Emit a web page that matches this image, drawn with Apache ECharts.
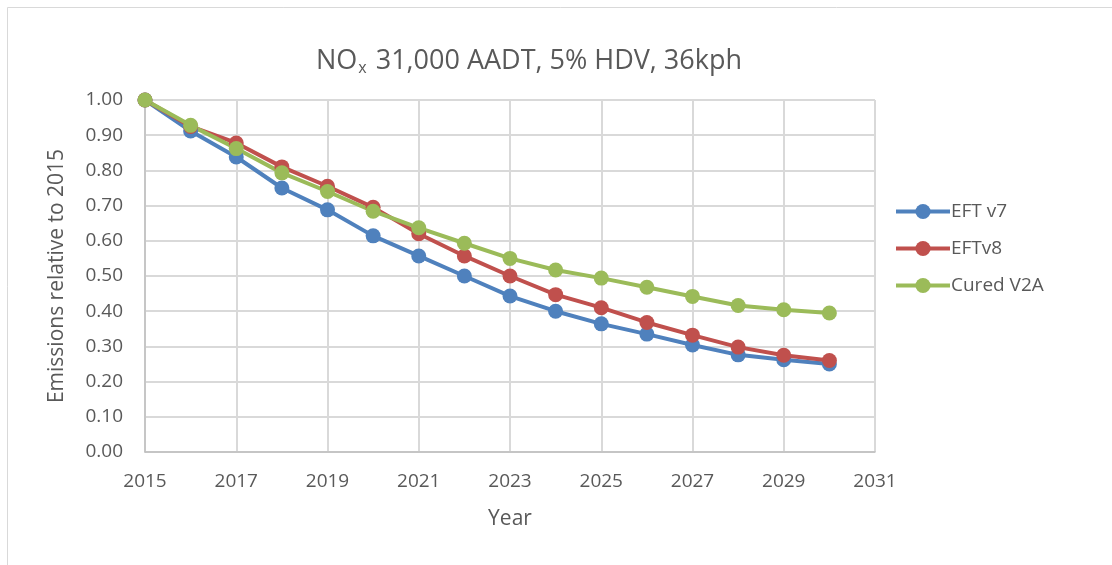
<!DOCTYPE html>
<html>
<head>
<meta charset="utf-8">
<script src="https://cdn.jsdelivr.net/npm/echarts@6/dist/echarts.min.js"></script>
<style>
  html, body { margin: 0; padding: 0; background: #ffffff; }
  #main { width: 1112px; height: 565px; }
</style>
</head>
<body>
<div id="main"></div>
<script>
var years = [2015, 2016, 2017, 2018, 2019, 2020, 2021, 2022, 2023, 2024, 2025, 2026, 2027, 2028, 2029, 2030];
var eftV7 = [1.00, 0.912, 0.838, 0.750, 0.688, 0.614, 0.557, 0.500, 0.443, 0.400, 0.364, 0.335, 0.304, 0.276, 0.262, 0.250];
var eftV8 = [1.00, 0.925, 0.878, 0.810, 0.755, 0.695, 0.620, 0.557, 0.500, 0.447, 0.410, 0.368, 0.332, 0.298, 0.275, 0.260];
var curedV2A = [1.00, 0.928, 0.862, 0.793, 0.740, 0.684, 0.637, 0.593, 0.550, 0.517, 0.494, 0.468, 0.442, 0.416, 0.404, 0.395];
var seriesNames = ['EFT v7', 'EFTv8', 'Cured V2A'];
var colors = ['#4f81bd', '#c0504d', '#9bbb59'];

function pairs(vals) {
    return years.map(function (y, i) { return [y, vals[i]]; });
}

var font = '"Open Sans", "Liberation Sans", sans-serif';
var chart = echarts.init(document.getElementById('main'));

function makeSeries(name, vals, color) {
    return {
        name: name,
        type: 'line',
        data: pairs(vals),
        symbol: 'circle',
        symbolSize: 15,
        lineStyle: { width: 4, color: color },
        itemStyle: { color: color },
        animation: false
    };
}

var option = {
    backgroundColor: '#ffffff',
    color: colors,
    title: {
        text: '{a|NO}{b|x}{a| 31,000 AADT, 5% HDV, 36kph}',
        left: 524,
        top: 41,
        textAlign: 'center',
        textStyle: {
            fontWeight: 'normal',
            rich: {
                a: { fontSize: 27, color: '#595959', fontFamily: font, fontWeight: 'normal' },
                b: { fontSize: 16, color: '#595959', fontFamily: font, fontWeight: 'normal', padding: [14, 2, 0, 1] }
            }
        }
    },
    grid: { left: 145, right: 237, top: 100, bottom: 113 },
    legend: {
        orient: 'vertical',
        left: 889,
        top: 197,
        itemWidth: 54,
        itemHeight: 19,
        itemGap: 18,
        lineStyle: { width: 4 },
        textStyle: { fontSize: 19, color: '#595959', fontFamily: font, padding: [0, 0, 0, -4] },
        data: seriesNames
    },
    xAxis: {
        type: 'value',
        min: 2015,
        max: 2031,
        interval: 2,
        name: 'Year',
        nameLocation: 'middle',
        nameGap: 57,
        nameTextStyle: { fontSize: 21, color: '#595959', fontFamily: font },
        axisLine: { lineStyle: { color: '#bfbfbf', width: 1.5 } },
        axisTick: { show: false },
        axisLabel: {
            fontSize: 19, color: '#595959', fontFamily: font, margin: 20,
            formatter: function (v) { return String(v); }
        },
        splitLine: { show: true, lineStyle: { color: '#d9d9d9', width: 2 } }
    },
    yAxis: {
        type: 'value',
        min: 0,
        max: 1,
        interval: 0.1,
        name: 'Emissions relative to 2015',
        nameLocation: 'middle',
        nameGap: 77,
        nameTextStyle: { fontSize: 21, color: '#595959', fontFamily: font },
        axisLine: { show: true, lineStyle: { color: '#bfbfbf', width: 1.5 } },
        axisTick: { show: false },
        axisLabel: {
            fontSize: 19, color: '#595959', fontFamily: font, margin: 22,
            formatter: function (v) { return v.toFixed(2); }
        },
        splitLine: { show: true, lineStyle: { color: '#d9d9d9', width: 2 } }
    },
    graphic: [{
        type: 'rect',
        shape: { x: 7.5, y: 7.5, width: 1120, height: 570 },
        style: { fill: 'none', stroke: '#d9d9d9', lineWidth: 1 },
        silent: true
    }],
    series: [
        makeSeries(seriesNames[0], eftV7, colors[0]),
        makeSeries(seriesNames[1], eftV8, colors[1]),
        makeSeries(seriesNames[2], curedV2A, colors[2])
    ]
};

chart.setOption(option);
</script>
</body>
</html>
